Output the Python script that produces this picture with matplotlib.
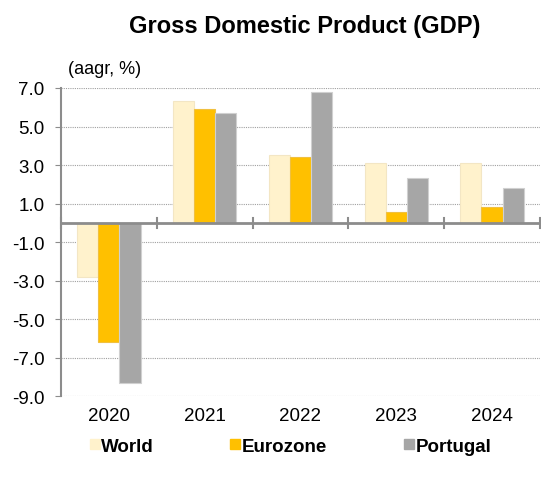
import matplotlib
matplotlib.use("Agg")
import matplotlib.pyplot as plt
from matplotlib.lines import Line2D
import numpy as np

plt.rcParams['font.family'] = ['Liberation Sans', 'DejaVu Sans']

years = ["2020", "2021", "2022", "2023", "2024"]
world = [-2.8, 6.3, 3.5, 3.1, 3.1]
eurozone = [-6.2, 5.9, 3.4, 0.55, 0.8]
portugal = [-8.3, 5.7, 6.8, 2.3, 1.8]
series_names = ["World", "Eurozone", "Portugal"]
yticks = [7.0, 5.0, 3.0, 1.0, -1.0, -3.0, -5.0, -7.0, -9.0]

colors = ["#FFF2CC", "#FFC000", "#A6A6A6"]
edges = ["#F3E6C4", "#F0C040", "#D0D0D0"]

fig = plt.figure(figsize=(5.41, 4.85), dpi=100)
ax = fig.add_axes([0.1128, 0.1814, 0.8852, 0.6351])

x = np.arange(len(years))
w = 0.22
for i, (vals, c, e) in enumerate(zip([world, eurozone, portugal], colors, edges)):
    ax.bar(x + (i - 1) * w, vals, width=w, color=c, edgecolor=e, linewidth=0.8, zorder=3)

ax.set_xlim(-0.5, len(years) - 0.5)
ax.set_ylim(-9, 7)
ax.set_yticks(yticks)
ax.set_yticklabels([f"{t:.1f}" for t in yticks], fontsize=13.5)
for t in yticks:
    ax.axhline(t, color="#A0A0A0", linestyle=(0, (1, 1)), linewidth=0.8, zorder=1)

ax.axhline(0, color="#8C8C8C", linewidth=2, zorder=4)
for b in np.arange(len(years) + 1) - 0.5:
    ax.plot([b, b], [-0.25, 0.25], color="#8C8C8C", linewidth=1.5, zorder=4, clip_on=False)

for s in ["top", "right", "bottom"]:
    ax.spines[s].set_visible(False)
ax.spines["left"].set_color("#8C8C8C")
ax.spines["left"].set_linewidth(1.5)
ax.tick_params(axis="y", direction="out", length=4, color="#8C8C8C", pad=8)
ax.set_xticks(x)
ax.set_xticklabels(years, fontsize=13.5)
ax.tick_params(axis="x", length=0, pad=8)

fig.text(0.564, 0.945, "Gross Domestic Product (GDP)", ha="center", va="center",
         fontsize=17, fontweight="bold")
fig.text(0.125, 0.856, "(aagr, %)", ha="left", va="center", fontsize=13)

handles = [Line2D([], [], marker="s", linestyle="none", markersize=7,
                  markerfacecolor=c, markeredgecolor=c) for c in colors]
leg = fig.legend(handles, series_names, loc="center", bbox_to_anchor=(0.537, 0.078),
                 ncol=3, frameon=False, handlelength=0.5, handletextpad=0.1,
                 columnspacing=4.1, prop={"weight": "bold", "size": 13.5})

fig.savefig("out.png", dpi=100)
